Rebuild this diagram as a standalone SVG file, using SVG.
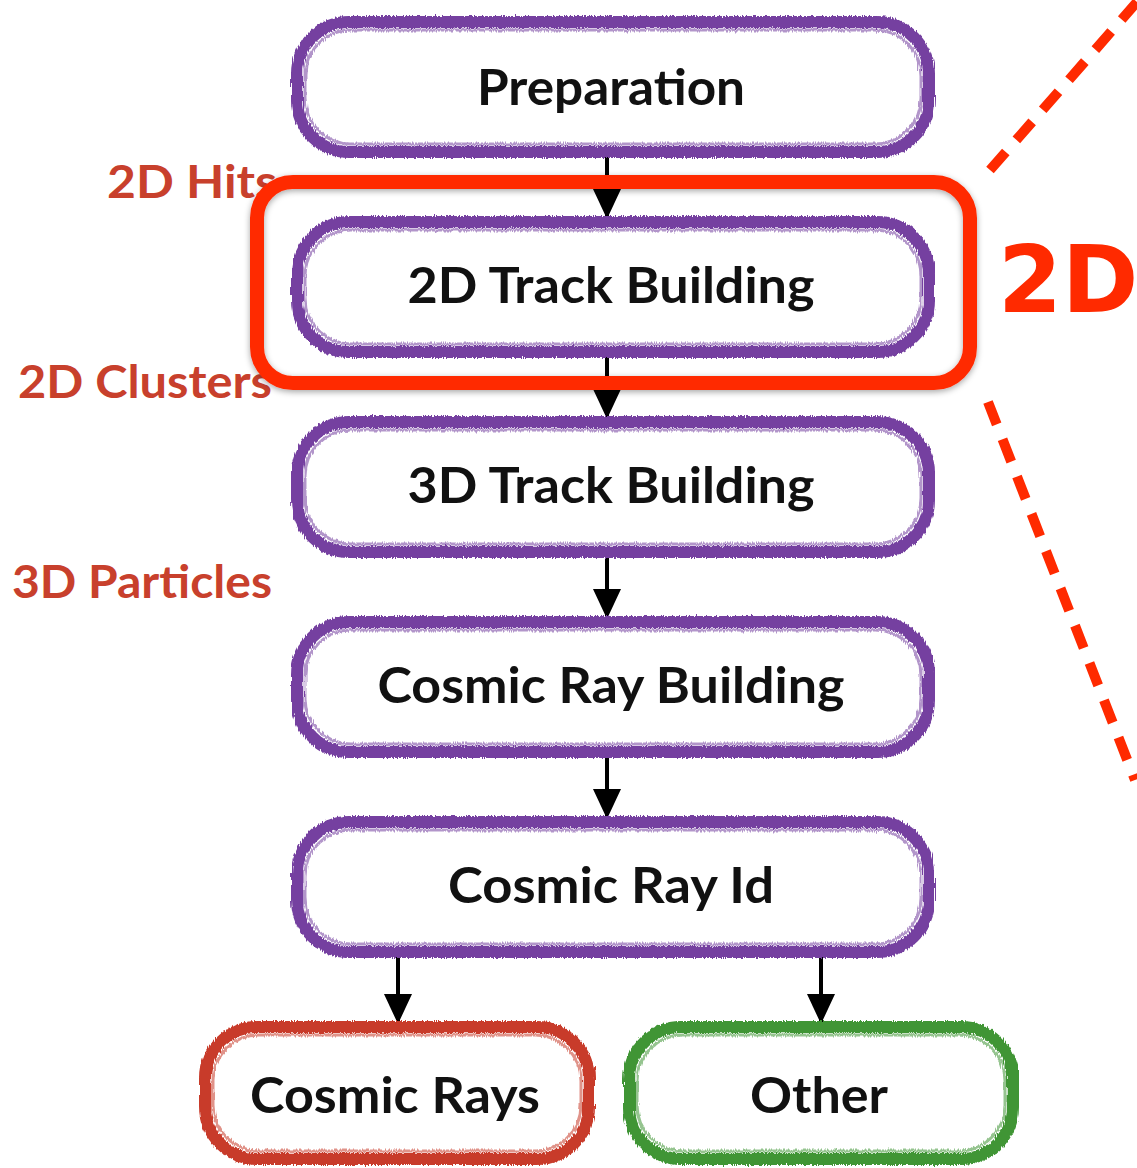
<svg xmlns="http://www.w3.org/2000/svg" width="1137" height="1168" viewBox="0 0 1137 1168">
  <style>
    .box { fill: #ffffff; stroke-width: 12; stroke-linejoin: round; }
    .inner { fill: none; stroke-width: 3; opacity: 0.55; }
    .purple { stroke: #7540a0; }
    .red { stroke: #c83a2a; }
    .green { stroke: #3f9535; }
    .label { font-family: Lato, "Liberation Sans", sans-serif; font-weight: 700; font-size: 50px; fill: #111111; text-anchor: middle; }
    .side { font-family: Lato, "Liberation Sans", sans-serif; font-weight: 700; font-size: 46px; fill: #c8402c; }
    .conn { stroke: #000000; stroke-width: 4; fill: none; }
    .dash { stroke: #ff2a00; stroke-width: 10; stroke-dasharray: 24 16; fill: none; }
  </style>
  <defs>
    <filter id="brush" x="-5%" y="-10%" width="110%" height="120%">
      <feTurbulence type="fractalNoise" baseFrequency="0.9 0.05" numOctaves="2" seed="7" result="n"/>
      <feDisplacementMap in="SourceGraphic" in2="n" scale="5" xChannelSelector="R" yChannelSelector="G"/>
    </filter>
    <filter id="shadow" x="-5%" y="-10%" width="110%" height="120%">
      <feDropShadow dx="0" dy="2" stdDeviation="3" flood-color="#000" flood-opacity="0.35"/>
    </filter>
    <marker id="arrow" markerUnits="userSpaceOnUse" markerWidth="30" markerHeight="30" refX="30" refY="14" orient="auto">
      <path d="M0,0 L30,14 L0,28 Z" fill="#000"/>
    </marker>
  </defs>

  <rect width="1137" height="1168" fill="#ffffff"/>

  <!-- data products between stages -->
  <text class="side" x="107" y="198" textLength="170" lengthAdjust="spacingAndGlyphs">2D Hits</text>
  <text class="side" x="18" y="398" textLength="254" lengthAdjust="spacingAndGlyphs">2D Clusters</text>
  <text class="side" x="12" y="598" textLength="260" lengthAdjust="spacingAndGlyphs">3D Particles</text>

  <!-- connectors -->
  <g id="connectors">
    <line class="conn" x1="607" y1="152" x2="607" y2="219" marker-end="url(#arrow)"/>
    <line class="conn" x1="607" y1="352" x2="607" y2="419" marker-end="url(#arrow)"/>
    <line class="conn" x1="607" y1="552" x2="607" y2="619" marker-end="url(#arrow)"/>
    <line class="conn" x1="607" y1="752" x2="607" y2="819" marker-end="url(#arrow)"/>
    <line class="conn" x1="398" y1="956" x2="398" y2="1024" marker-end="url(#arrow)"/>
    <line class="conn" x1="821" y1="956" x2="821" y2="1024" marker-end="url(#arrow)"/>
  </g>

  <!-- pipeline stages -->
  <g id="preparation">
    <rect class="box purple" filter="url(#brush)" x="297" y="22" width="632" height="130" rx="52"/>
    <rect class="inner purple" filter="url(#brush)" x="305" y="30" width="616" height="114" rx="46"/>
    <text class="label" x="611" y="105" textLength="268" lengthAdjust="spacingAndGlyphs">Preparation</text>
  </g>
  <g id="track2d">
    <rect class="box purple" filter="url(#brush)" x="297" y="222" width="632" height="130" rx="52"/>
    <rect class="inner purple" filter="url(#brush)" x="305" y="230" width="616" height="114" rx="46"/>
    <text class="label" x="611" y="303" textLength="407" lengthAdjust="spacingAndGlyphs">2D Track Building</text>
  </g>
  <g id="track3d">
    <rect class="box purple" filter="url(#brush)" x="297" y="422" width="632" height="130" rx="52"/>
    <rect class="inner purple" filter="url(#brush)" x="305" y="430" width="616" height="114" rx="46"/>
    <text class="label" x="611" y="503" textLength="407" lengthAdjust="spacingAndGlyphs">3D Track Building</text>
  </g>
  <g id="cosmic-building">
    <rect class="box purple" filter="url(#brush)" x="297" y="622" width="632" height="130" rx="52"/>
    <rect class="inner purple" filter="url(#brush)" x="305" y="630" width="616" height="114" rx="46"/>
    <text class="label" x="611" y="703" textLength="467" lengthAdjust="spacingAndGlyphs">Cosmic Ray Building</text>
  </g>
  <g id="cosmic-id">
    <rect class="box purple" filter="url(#brush)" x="297" y="822" width="632" height="130" rx="52"/>
    <rect class="inner purple" filter="url(#brush)" x="305" y="830" width="616" height="114" rx="46"/>
    <text class="label" x="611" y="903" textLength="326" lengthAdjust="spacingAndGlyphs">Cosmic Ray Id</text>
  </g>

  <!-- outputs -->
  <g id="cosmic-rays">
    <rect class="box red" filter="url(#brush)" x="205" y="1027" width="384" height="132" rx="52"/>
    <rect class="inner red" filter="url(#brush)" x="213" y="1035" width="368" height="116" rx="46"/>
    <text class="label" x="395" y="1113" textLength="290" lengthAdjust="spacingAndGlyphs">Cosmic Rays</text>
  </g>
  <g id="other">
    <rect class="box green" filter="url(#brush)" x="629" y="1027" width="384" height="132" rx="52"/>
    <rect class="inner green" filter="url(#brush)" x="637" y="1035" width="368" height="116" rx="46"/>
    <text class="label" x="819" y="1113" textLength="138" lengthAdjust="spacingAndGlyphs">Other</text>
  </g>

  <!-- 2D stage highlight -->
  <g id="highlight">
    <rect x="257" y="182" width="713" height="201" rx="36" fill="none" stroke="#ff2a00" stroke-width="14" filter="url(#shadow)"/>
    <line class="dash" x1="990" y1="170" x2="1137" y2="2"/>
    <line class="dash" x1="988" y1="402" x2="1135" y2="780"/>
    <text x="998" y="312" font-family="'DejaVu Sans', Verdana, sans-serif" font-weight="700" font-size="92" fill="#ff2a00">2D</text>
  </g>
</svg>
